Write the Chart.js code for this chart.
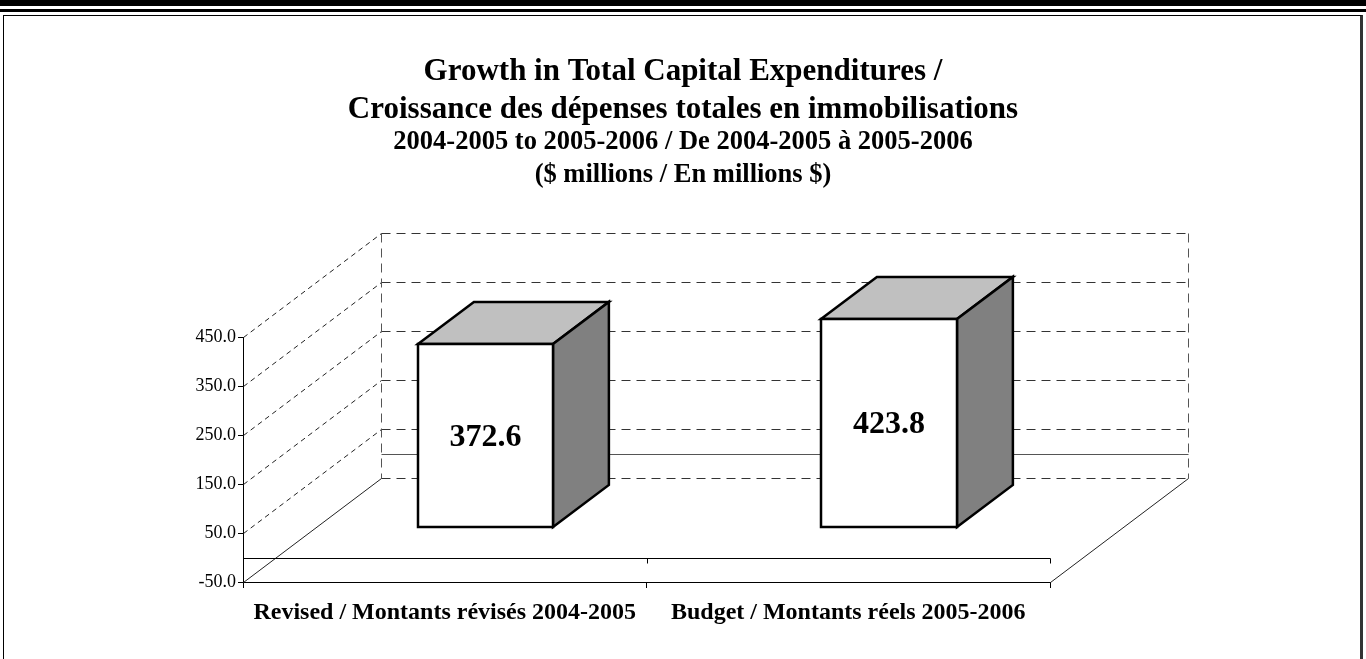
<!DOCTYPE html>
<html>
<head>
<meta charset="utf-8">
<title>Growth in Total Capital Expenditures</title>
<script src="https://cdn.jsdelivr.net/npm/chart.js@4.4.1/dist/chart.umd.min.js"></script>
<style>
  html, body { margin: 0; padding: 0; background: #fff; }
  #page { position: relative; width: 1366px; height: 659px; overflow: hidden; }
  .rule1 { position: absolute; left: 0; top: 0; width: 1366px; height: 6px; background: #000; }
  .rule2 { position: absolute; left: 0; top: 9px; width: 1366px; height: 3px; background: #000; }
  .frame { position: absolute; left: 3px; top: 15px; width: 1356px; height: 700px;
           border-left: 1px solid #000; border-top: 1px solid #000; border-right: 3px solid #333; }
  #wrap { position: absolute; left: 0; top: 0; width: 1366px; height: 659px; }
</style>
</head>
<body>
<div id="page">
  <div class="rule1"></div>
  <div class="rule2"></div>
  <div class="frame"></div>
  <div id="wrap"><canvas id="capexChart"></canvas></div>
</div>
<script>
// data
const categories = ['Revised / Montants révisés 2004-2005', 'Budget / Montants réels 2005-2006'];
const capexValues = [372.6, 423.8];
const yTickValues = [-50, 50, 150, 250, 350, 450];
const titleLines = ['Growth in Total Capital Expenditures /', 'Croissance des dépenses totales en immobilisations'];
const subtitleLines = ['2004-2005 to 2005-2006 / De 2004-2005 à 2005-2006', '($ millions / En millions $)'];

const serif = "'Liberation Serif', 'Times New Roman', serif";

// 3d projection of the excel-style box (full depth of the plot)
const DEPTH_X = 138;
const DEPTH_Y = -104;
const BAR_FRONT = 0.295;   // where the bar front face sits in the depth
const BAR_DEPTH = 0.405;   // how deep the bar is

function line(ctx, x1, y1, x2, y2, dash, color) {
  ctx.save();
  ctx.beginPath();
  ctx.setLineDash(dash || []);
  ctx.strokeStyle = color || '#000';
  ctx.lineWidth = 1;
  ctx.moveTo(x1, y1);
  ctx.lineTo(x2, y2);
  ctx.stroke();
  ctx.restore();
}

const box3d = {
  id: 'box3d',
  beforeDatasetsDraw(chart) {
    const ctx = chart.ctx;
    const xs = chart.scales.x, ys = chart.scales.y;
    const L = chart.chartArea.left + 0.5, R = chart.chartArea.right + 0.5;
    const yBot = Math.round(ys.getPixelForValue(yTickValues[0])) + 0.5;
    const yTop = Math.round(ys.getPixelForValue(yTickValues[yTickValues.length - 1])) + 0.5;

    // side wall and back wall grid
    yTickValues.forEach((v, i) => {
      const y = Math.round(ys.getPixelForValue(v)) + 0.5;
      if (i > 0) line(ctx, L, y, L + DEPTH_X, y + DEPTH_Y, [5, 4], '#222');
      line(ctx, L + DEPTH_X, y + DEPTH_Y, R + DEPTH_X, y + DEPTH_Y, [9, 6], '#333');
    });
    // back wall edges
    line(ctx, L + DEPTH_X, yTop + DEPTH_Y, L + DEPTH_X, yBot + DEPTH_Y, [9, 6], '#555');
    line(ctx, R + DEPTH_X, yTop + DEPTH_Y, R + DEPTH_X, yBot + DEPTH_Y, [9, 6], '#555');
    // zero line on back wall
    const y0 = Math.round(ys.getPixelForValue(0)) + 0.5;
    line(ctx, L + DEPTH_X, y0 + DEPTH_Y, R + DEPTH_X, y0 + DEPTH_Y, [], '#555');
    // floor
    line(ctx, L, yBot, L + DEPTH_X, yBot + DEPTH_Y, [], '#222');
    line(ctx, R, yBot, R + DEPTH_X, yBot + DEPTH_Y, [], '#222');
    // zero line on front with ticks
    line(ctx, L, y0, R, y0, [], '#000');
    for (let i = 0; i <= categories.length; i++) {
      const x = Math.round(xs.getPixelForValue(i - 0.5)) + 0.5;
      line(ctx, x, y0, x, y0 + 5, [], '#000');
    }
  },
  afterDatasetsDraw(chart) {
    const ctx = chart.ctx;
    const meta = chart.getDatasetMeta(0);
    const fx = DEPTH_X * BAR_FRONT, fy = DEPTH_Y * BAR_FRONT;
    const bx = DEPTH_X * BAR_DEPTH, by = DEPTH_Y * BAR_DEPTH;
    meta.data.forEach((bar, i) => {
      const p = bar.getProps(['x', 'y', 'base', 'width'], true);
      const left = Math.round(p.x - p.width / 2 + fx);
      const right = Math.round(p.x + p.width / 2 + fx);
      const top = Math.round(p.y + fy);
      const bottom = Math.round(p.base + fy);
      ctx.save();
      ctx.lineWidth = 2.5;
      ctx.lineJoin = 'miter';
      ctx.strokeStyle = '#000';
      // top face
      ctx.beginPath();
      ctx.moveTo(left, top);
      ctx.lineTo(left + bx, top + by);
      ctx.lineTo(right + bx, top + by);
      ctx.lineTo(right, top);
      ctx.closePath();
      ctx.fillStyle = '#c0c0c0';
      ctx.fill();
      ctx.stroke();
      // side face
      ctx.beginPath();
      ctx.moveTo(right, top);
      ctx.lineTo(right + bx, top + by);
      ctx.lineTo(right + bx, bottom + by);
      ctx.lineTo(right, bottom);
      ctx.closePath();
      ctx.fillStyle = '#808080';
      ctx.fill();
      ctx.stroke();
      // front face
      ctx.beginPath();
      ctx.rect(left, top, right - left, bottom - top);
      ctx.fillStyle = '#fff';
      ctx.fill();
      ctx.stroke();
      // value label
      ctx.fillStyle = '#000';
      ctx.font = 'bold 32px ' + serif;
      ctx.textAlign = 'center';
      ctx.textBaseline = 'middle';
      ctx.fillText(capexValues[i].toFixed(1), (left + right) / 2, (top + bottom) / 2 + 2);
      ctx.restore();
    });
  }
};

Chart.defaults.font.family = serif;
Chart.defaults.color = '#000';

const ctx = document.getElementById('capexChart').getContext('2d');
const capexChart = new Chart(ctx, {
  type: 'bar',
  data: {
    labels: categories,
    datasets: [{
      data: capexValues,
      backgroundColor: 'rgba(0,0,0,0)',
      borderWidth: 0,
      barPercentage: 0.335,
      categoryPercentage: 1
    }]
  },
  options: {
    responsive: true,
    maintainAspectRatio: false,
    animation: false,
    layout: { padding: { left: 0, right: 0, top: 0, bottom: 27 } },
    plugins: {
      legend: { display: false },
      tooltip: { enabled: false },
      title: {
        display: true,
        text: titleLines,
        color: '#000',
        font: { size: 31, weight: 'bold', lineHeight: '38px' },
        padding: { top: 53, bottom: 0 }
      },
      subtitle: {
        display: true,
        text: subtitleLines,
        color: '#000',
        font: { size: 26.5, weight: 'bold', lineHeight: '33px' },
        padding: { top: -3, bottom: 145 }
      }
    },
    scales: {
      x: {
        grid: { drawOnChartArea: false, tickLength: 6, color: '#000', offset: true },
        border: { color: '#000', width: 1 },
        ticks: { font: { size: 24, weight: 'bold' }, color: '#000', padding: 10, maxRotation: 0, autoSkip: false },
        afterFit: s => { s.height = 50; }
      },
      y: {
        min: -50,
        max: 450,
        ticks: { stepSize: 100, callback: v => v.toFixed(1), font: { size: 18 }, color: '#000', padding: 2 },
        grid: { drawOnChartArea: false, tickLength: 5, color: '#000' },
        border: { color: '#000', width: 1 },
        afterFit: s => { s.width = 243; }
      },
      // empty axis that only keeps room on the right for the 3d depth
      yRight: {
        position: 'right',
        display: true,
        grid: { display: false, drawTicks: false },
        border: { display: false },
        ticks: { display: false },
        afterFit: s => { s.width = 316; }
      }
    }
  },
  plugins: [box3d]
});
</script>
</body>
</html>
